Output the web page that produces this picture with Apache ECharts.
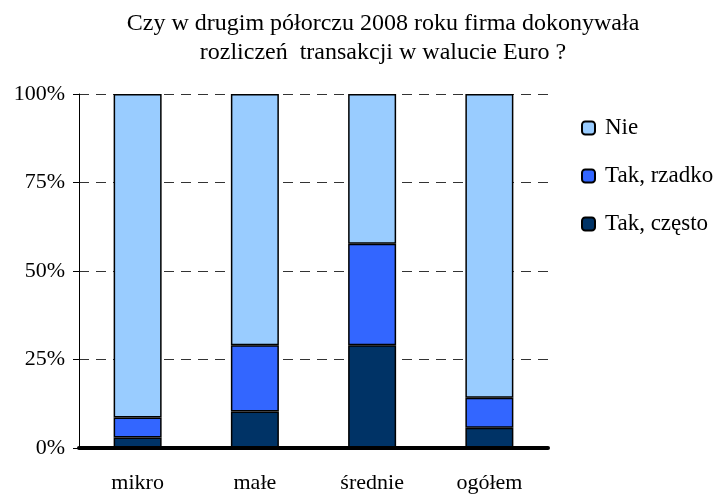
<!DOCTYPE html>
<html lang="pl">
<head>
    <meta charset="UTF-8">
    <script src="https://cdn.jsdelivr.net/npm/echarts@6/dist/echarts.min.js"></script>
    <title>Euro</title>
    <style>
        html, body {margin: 0; padding: 0; background: #fff;}
    </style>
</head>
<body>

<div id="ec" style="width:722px;height:494px;"></div>

<script>
    // dane (%)
    var categories = ['mikro', 'małe', 'średnie', 'ogółem'];
    var czesto = [3.0, 10.3, 29.0, 5.7];
    var rzadko = [5.6, 18.7, 28.7, 8.5];
    var nie = [91.4, 71.0, 42.3, 85.8];
    var yTicks = [0, 25, 50, 75, 100];

    var font = 'Liberation Serif';
    var myChart = echarts.init(document.getElementById('ec'));

    function bar(name, data, color) {
        return {
            name: name,
            type: 'bar',
            stack: 'all',
            barWidth: 48,
            data: data,
            itemStyle: {color: color, borderColor: '#000', borderWidth: 1.5}
        };
    }

    myChart.setOption({
        animation: false,
        title: {
            text: 'Czy w drugim półorczu 2008 roku firma dokonywała\nrozliczeń  transakcji w walucie Euro ?',
            left: 378,
            top: 4,
            textAlign: 'center',
            textStyle: {fontFamily: font, fontSize: 24, fontWeight: 'normal', color: '#000', lineHeight: 29}
        },
        legend: {
            orient: 'vertical',
            left: 576,
            top: 111,
            itemWidth: 13,
            itemHeight: 13,
            itemGap: 24,
            data: ['Nie', 'Tak, rzadko', 'Tak, często'],
            textStyle: {fontFamily: font, fontSize: 23, color: '#000', lineHeight: 24, padding: [0, 0, 0, 5]}
        },
        grid: {left: 79, right: 174, top: 94, bottom: 41},
        xAxis: {
            type: 'category',
            data: categories,
            z: 5,
            axisLine: {lineStyle: {color: '#000', width: 4, cap: 'round'}},
            axisTick: {inside: true, length: 6, lineStyle: {color: '#000', width: 4, cap: 'round'}},
            axisLabel: {fontFamily: font, fontSize: 22, color: '#000', margin: 24}
        },
        yAxis: {
            type: 'value',
            min: yTicks[0],
            max: yTicks[yTicks.length - 1],
            interval: 25,
            axisLine: {show: true, lineStyle: {color: '#000', width: 1}},
            axisTick: {show: true, length: 6, lineStyle: {color: '#000'}},
            axisLabel: {fontFamily: font, fontSize: 22, color: '#000', margin: 14, formatter: '{value}%'},
            splitLine: {lineStyle: {color: '#333', type: [10, 7], width: 1}}
        },
        series: [
            bar('Tak, często', czesto, '#003366'),
            bar('Tak, rzadko', rzadko, '#3366FF'),
            bar('Nie', nie, '#99CCFF')
        ]
    });
</script>

</body>
</html>
